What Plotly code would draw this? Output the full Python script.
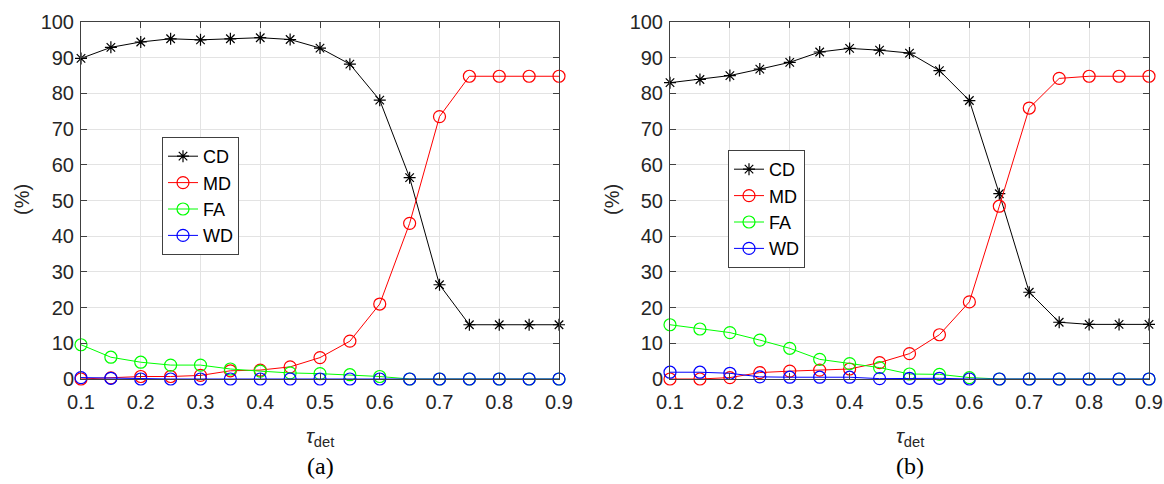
import plotly.graph_objects as go

tau = [0.1, 0.15, 0.2, 0.25, 0.3, 0.35, 0.4, 0.45, 0.5, 0.55, 0.6, 0.65, 0.7, 0.75, 0.8, 0.85, 0.9]

# Panel (a)
cd_a = [89.8, 92.9, 94.4, 95.3, 95.0, 95.3, 95.6, 95.1, 92.7, 88.2, 78.1, 56.4, 26.4, 15.2, 15.2, 15.2, 15.2]
md_a = [0.0, 0.3, 0.7, 0.7, 1.0, 2.3, 2.5, 3.4, 6.0, 10.6, 21.0, 43.6, 73.5, 84.8, 84.8, 84.8, 84.8]
fa_a = [9.6, 6.1, 4.7, 3.9, 3.9, 2.8, 2.2, 1.7, 1.5, 1.2, 0.7, 0.0, 0.0, 0.0, 0.0, 0.0, 0.0]
wd_a = [0.4, 0.2, 0.0, 0.0, 0.0, 0.0, 0.0, 0.0, 0.0, 0.0, 0.0, 0.0, 0.0, 0.0, 0.0, 0.0, 0.0]

# Panel (b)
cd_b = [83.0, 83.9, 85.0, 86.8, 88.7, 91.6, 92.6, 92.1, 91.3, 86.4, 78.0, 51.9, 24.3, 15.9, 15.3, 15.3, 15.3]
md_b = [0.0, 0.0, 0.4, 1.8, 2.2, 2.5, 2.8, 4.6, 7.1, 12.4, 21.6, 48.4, 75.9, 84.2, 84.8, 84.8, 84.8]
fa_b = [15.2, 14.0, 13.0, 10.9, 8.6, 5.5, 4.3, 3.2, 1.4, 1.3, 0.4, 0.0, 0.0, 0.0, 0.0, 0.0, 0.0]
wd_b = [1.9, 1.9, 1.6, 0.6, 0.5, 0.5, 0.5, 0.1, 0.2, 0.2, 0.0, 0.0, 0.0, 0.0, 0.0, 0.0, 0.0]

names = ["CD", "MD", "FA", "WD"]
colors = ["#000000", "#ff0000", "#00ff00", "#0000ff"]
symbols = ["asterisk-open", "circle-open", "circle-open", "circle-open"]

FONT = "Liberation Sans, Arial, sans-serif"
fig = go.Figure()

panels = [
    ([cd_a, md_a, fa_a, wd_a], "x", "y", "legend"),
    ([cd_b, md_b, fa_b, wd_b], "x2", "y2", "legend2"),
]
for series, xa, ya, lg in panels:
    for name, vals, col, sym in zip(names, series, colors, symbols):
        fig.add_trace(go.Scatter(
            x=tau, y=vals, name=name, mode="lines+markers",
            line=dict(color=col, width=1),
            marker=dict(symbol=sym, size=12 if sym == "circle-open" else 10,
                        color=col, line=dict(color=col, width=1.2)),
            xaxis=xa, yaxis=ya, legend=lg, cliponaxis=False,
        ))

axis_common = dict(
    showline=True, linecolor="#404040", linewidth=1, mirror="ticks",
    ticks="inside", ticklen=6, tickcolor="#404040",
    showgrid=True, gridcolor="#e3e3e3", gridwidth=1, zeroline=False,
    tickfont=dict(family=FONT, size=20, color="#262626"),
    automargin=False,
)
x_dom_a = [81 / 1164, 559 / 1164]
x_dom_b = [670 / 1164, 1149 / 1164]
y_dom = [1 - 379 / 484, 1 - 22 / 484]

leg_common = dict(xanchor="left", yanchor="top",
                  bgcolor="white", bordercolor="#404040", borderwidth=1,
                  font=dict(family=FONT, size=18, color="#000000"),
                  tracegroupgap=0, itemwidth=30)

fig.update_layout(
    width=1164, height=484,
    margin=dict(l=0, r=0, t=0, b=0, autoexpand=False),
    paper_bgcolor="white", plot_bgcolor="white",
    showlegend=True,
    xaxis=dict(domain=x_dom_a, range=[0.1, 0.9], dtick=0.1, tick0=0.1, anchor="y",
               ticklabelstandoff=5, **axis_common),
    yaxis=dict(domain=y_dom, range=[0, 100], dtick=10, anchor="x", ticklabelstandoff=2, **axis_common),
    xaxis2=dict(domain=x_dom_b, range=[0.1, 0.9], dtick=0.1, tick0=0.1, anchor="y2",
                ticklabelstandoff=5, **axis_common),
    yaxis2=dict(domain=y_dom, range=[0, 100], dtick=10, anchor="x2", ticklabelstandoff=2, **axis_common),
    legend=dict(x=162 / 1164, y=1 - 137 / 484, **leg_common),
    legend2=dict(x=728 / 1164, y=1 - 150 / 484, **leg_common),
)

annos = []
for cx, lab, ylx in [((81 + 559) / 2 / 1164, "(a)", 22 / 1164), ((670 + 1149) / 2 / 1164, "(b)", 612 / 1164)]:
    annos.append(dict(x=cx, y=1 - 437 / 484, xref="paper", yref="paper", showarrow=False,
                      xanchor="center", yanchor="middle",
                      text="<i>τ</i><sub>det</sub>", font=dict(family=FONT, size=21, color="#262626")))
    annos.append(dict(x=cx, y=1 - 466 / 484, xref="paper", yref="paper", showarrow=False,
                      xanchor="center", yanchor="middle",
                      text=lab, font=dict(family="Liberation Serif, serif", size=24, color="#000000")))
    annos.append(dict(x=ylx, y=1 - 200 / 484, xref="paper", yref="paper", showarrow=False,
                      xanchor="center", yanchor="middle",
                      text="(%)", textangle=-90, font=dict(family=FONT, size=20, color="#262626")))
fig.update_layout(annotations=annos)

fig.write_html("out.html", config={"displayModeBar": False},
               post_script="document.body.style.margin='0';")
